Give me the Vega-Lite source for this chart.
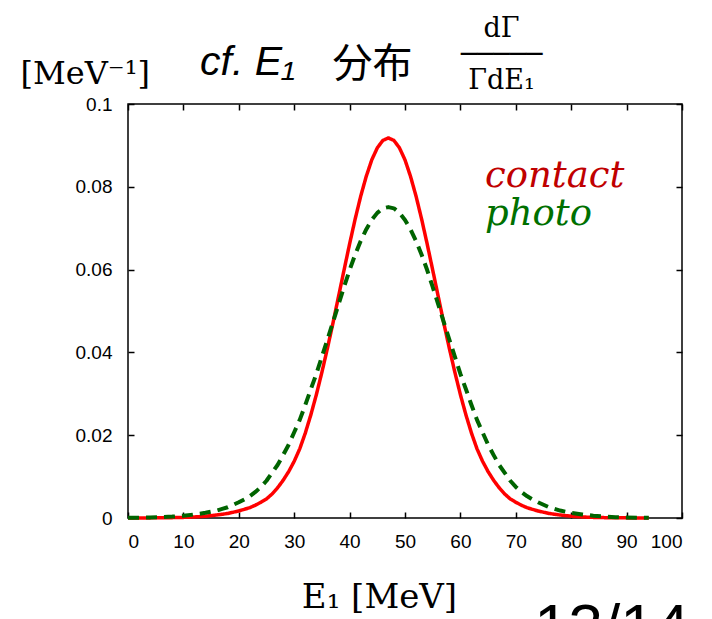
{
  "$schema": "https://vega.github.io/schema/vega-lite/v6.json",
  "width": 554,
  "height": 414,
  "autosize": "none",
  "padding": {"left": 128, "top": 104, "right": 30, "bottom": 101},
  "background": "#ffffff",
  "title": {
    "text": "cf. E₁",
    "anchor": "start",
    "frame": "group",
    "dx": 72,
    "dy": 74,
    "font": "Liberation Sans",
    "fontStyle": "italic",
    "fontWeight": "normal",
    "fontSize": 41,
    "color": "#000000"
  },
  "data": {
    "values": [
      {"E": 0, "v": 0.00001, "s": "contact"},
      {"E": 2, "v": 0.00002, "s": "contact"},
      {"E": 4, "v": 0.00003, "s": "contact"},
      {"E": 6, "v": 0.00005, "s": "contact"},
      {"E": 8, "v": 0.00009, "s": "contact"},
      {"E": 10, "v": 0.00015, "s": "contact"},
      {"E": 12, "v": 0.00025, "s": "contact"},
      {"E": 14, "v": 0.00043, "s": "contact"},
      {"E": 16, "v": 0.00072, "s": "contact"},
      {"E": 17, "v": 0.0009, "s": "contact"},
      {"E": 18, "v": 0.0011, "s": "contact"},
      {"E": 19, "v": 0.0014, "s": "contact"},
      {"E": 20, "v": 0.0017, "s": "contact"},
      {"E": 21, "v": 0.0021, "s": "contact"},
      {"E": 22, "v": 0.0025, "s": "contact"},
      {"E": 23, "v": 0.0031, "s": "contact"},
      {"E": 24, "v": 0.0038, "s": "contact"},
      {"E": 25, "v": 0.0046, "s": "contact"},
      {"E": 26, "v": 0.0058, "s": "contact"},
      {"E": 27, "v": 0.0073, "s": "contact"},
      {"E": 28, "v": 0.0091, "s": "contact"},
      {"E": 29, "v": 0.0112, "s": "contact"},
      {"E": 30, "v": 0.0137, "s": "contact"},
      {"E": 31, "v": 0.0167, "s": "contact"},
      {"E": 32, "v": 0.0205, "s": "contact"},
      {"E": 33, "v": 0.0249, "s": "contact"},
      {"E": 34, "v": 0.0298, "s": "contact"},
      {"E": 35, "v": 0.0352, "s": "contact"},
      {"E": 36, "v": 0.041, "s": "contact"},
      {"E": 37, "v": 0.0471, "s": "contact"},
      {"E": 38, "v": 0.0535, "s": "contact"},
      {"E": 39, "v": 0.0599, "s": "contact"},
      {"E": 40, "v": 0.0662, "s": "contact"},
      {"E": 41, "v": 0.0722, "s": "contact"},
      {"E": 42, "v": 0.0777, "s": "contact"},
      {"E": 43, "v": 0.0825, "s": "contact"},
      {"E": 44, "v": 0.0865, "s": "contact"},
      {"E": 45, "v": 0.0894, "s": "contact"},
      {"E": 46, "v": 0.0912, "s": "contact"},
      {"E": 47, "v": 0.0918, "s": "contact"},
      {"E": 48, "v": 0.0912, "s": "contact"},
      {"E": 49, "v": 0.0894, "s": "contact"},
      {"E": 50, "v": 0.0865, "s": "contact"},
      {"E": 51, "v": 0.0825, "s": "contact"},
      {"E": 52, "v": 0.0777, "s": "contact"},
      {"E": 53, "v": 0.0722, "s": "contact"},
      {"E": 54, "v": 0.0662, "s": "contact"},
      {"E": 55, "v": 0.0599, "s": "contact"},
      {"E": 56, "v": 0.0535, "s": "contact"},
      {"E": 57, "v": 0.0471, "s": "contact"},
      {"E": 58, "v": 0.041, "s": "contact"},
      {"E": 59, "v": 0.0352, "s": "contact"},
      {"E": 60, "v": 0.0298, "s": "contact"},
      {"E": 61, "v": 0.0249, "s": "contact"},
      {"E": 62, "v": 0.0205, "s": "contact"},
      {"E": 63, "v": 0.0167, "s": "contact"},
      {"E": 64, "v": 0.0137, "s": "contact"},
      {"E": 65, "v": 0.0112, "s": "contact"},
      {"E": 66, "v": 0.0091, "s": "contact"},
      {"E": 67, "v": 0.0073, "s": "contact"},
      {"E": 68, "v": 0.0058, "s": "contact"},
      {"E": 69, "v": 0.0046, "s": "contact"},
      {"E": 70, "v": 0.0038, "s": "contact"},
      {"E": 71, "v": 0.0031, "s": "contact"},
      {"E": 72, "v": 0.0025, "s": "contact"},
      {"E": 73, "v": 0.0021, "s": "contact"},
      {"E": 74, "v": 0.0017, "s": "contact"},
      {"E": 75, "v": 0.0014, "s": "contact"},
      {"E": 76, "v": 0.0011, "s": "contact"},
      {"E": 77, "v": 0.0009, "s": "contact"},
      {"E": 78, "v": 0.00072, "s": "contact"},
      {"E": 80, "v": 0.00043, "s": "contact"},
      {"E": 82, "v": 0.00025, "s": "contact"},
      {"E": 84, "v": 0.00015, "s": "contact"},
      {"E": 86, "v": 0.00009, "s": "contact"},
      {"E": 88, "v": 0.00005, "s": "contact"},
      {"E": 90, "v": 0.00003, "s": "contact"},
      {"E": 92, "v": 0.00002, "s": "contact"},
      {"E": 94, "v": 0.00001, "s": "contact"},
      {"E": 0, "v": 0.00005, "s": "photo"},
      {"E": 2, "v": 0.00008, "s": "photo"},
      {"E": 4, "v": 0.00013, "s": "photo"},
      {"E": 6, "v": 0.0002, "s": "photo"},
      {"E": 8, "v": 0.00034, "s": "photo"},
      {"E": 10, "v": 0.00055, "s": "photo"},
      {"E": 12, "v": 0.00086, "s": "photo"},
      {"E": 14, "v": 0.00125, "s": "photo"},
      {"E": 16, "v": 0.0018, "s": "photo"},
      {"E": 17, "v": 0.0022, "s": "photo"},
      {"E": 18, "v": 0.0026, "s": "photo"},
      {"E": 19, "v": 0.0032, "s": "photo"},
      {"E": 20, "v": 0.0038, "s": "photo"},
      {"E": 21, "v": 0.0045, "s": "photo"},
      {"E": 22, "v": 0.0053, "s": "photo"},
      {"E": 23, "v": 0.0063, "s": "photo"},
      {"E": 24, "v": 0.0075, "s": "photo"},
      {"E": 25, "v": 0.009, "s": "photo"},
      {"E": 26, "v": 0.0109, "s": "photo"},
      {"E": 27, "v": 0.0128, "s": "photo"},
      {"E": 28, "v": 0.0152, "s": "photo"},
      {"E": 29, "v": 0.0177, "s": "photo"},
      {"E": 30, "v": 0.0207, "s": "photo"},
      {"E": 31, "v": 0.0237, "s": "photo"},
      {"E": 32, "v": 0.0273, "s": "photo"},
      {"E": 33, "v": 0.0311, "s": "photo"},
      {"E": 34, "v": 0.0348, "s": "photo"},
      {"E": 35, "v": 0.039, "s": "photo"},
      {"E": 36, "v": 0.0431, "s": "photo"},
      {"E": 37, "v": 0.0473, "s": "photo"},
      {"E": 38, "v": 0.0516, "s": "photo"},
      {"E": 39, "v": 0.0558, "s": "photo"},
      {"E": 40, "v": 0.0599, "s": "photo"},
      {"E": 41, "v": 0.0636, "s": "photo"},
      {"E": 42, "v": 0.0669, "s": "photo"},
      {"E": 43, "v": 0.0697, "s": "photo"},
      {"E": 44, "v": 0.072, "s": "photo"},
      {"E": 45, "v": 0.0737, "s": "photo"},
      {"E": 46, "v": 0.0748, "s": "photo"},
      {"E": 47, "v": 0.0751, "s": "photo"},
      {"E": 48, "v": 0.0748, "s": "photo"},
      {"E": 49, "v": 0.0737, "s": "photo"},
      {"E": 50, "v": 0.072, "s": "photo"},
      {"E": 51, "v": 0.0697, "s": "photo"},
      {"E": 52, "v": 0.0669, "s": "photo"},
      {"E": 53, "v": 0.0636, "s": "photo"},
      {"E": 54, "v": 0.0599, "s": "photo"},
      {"E": 55, "v": 0.0558, "s": "photo"},
      {"E": 56, "v": 0.0516, "s": "photo"},
      {"E": 57, "v": 0.0473, "s": "photo"},
      {"E": 58, "v": 0.0431, "s": "photo"},
      {"E": 59, "v": 0.039, "s": "photo"},
      {"E": 60, "v": 0.0348, "s": "photo"},
      {"E": 61, "v": 0.0311, "s": "photo"},
      {"E": 62, "v": 0.0273, "s": "photo"},
      {"E": 63, "v": 0.0237, "s": "photo"},
      {"E": 64, "v": 0.0207, "s": "photo"},
      {"E": 65, "v": 0.0177, "s": "photo"},
      {"E": 66, "v": 0.0152, "s": "photo"},
      {"E": 67, "v": 0.0128, "s": "photo"},
      {"E": 68, "v": 0.0109, "s": "photo"},
      {"E": 69, "v": 0.009, "s": "photo"},
      {"E": 70, "v": 0.0075, "s": "photo"},
      {"E": 71, "v": 0.0063, "s": "photo"},
      {"E": 72, "v": 0.0053, "s": "photo"},
      {"E": 73, "v": 0.0045, "s": "photo"},
      {"E": 74, "v": 0.0038, "s": "photo"},
      {"E": 75, "v": 0.0032, "s": "photo"},
      {"E": 76, "v": 0.0026, "s": "photo"},
      {"E": 77, "v": 0.0022, "s": "photo"},
      {"E": 78, "v": 0.0018, "s": "photo"},
      {"E": 80, "v": 0.00125, "s": "photo"},
      {"E": 82, "v": 0.00086, "s": "photo"},
      {"E": 84, "v": 0.00055, "s": "photo"},
      {"E": 86, "v": 0.00034, "s": "photo"},
      {"E": 88, "v": 0.0002, "s": "photo"},
      {"E": 90, "v": 0.00013, "s": "photo"},
      {"E": 92, "v": 0.00008, "s": "photo"},
      {"E": 94, "v": 0.00005, "s": "photo"}
    ]
  },
  "layer": [
    {
      "mark": {"type": "line", "strokeCap": "butt", "strokeJoin": "round"},
      "encoding": {
        "x": {
          "field": "E", "type": "quantitative",
          "scale": {"domain": [0, 100], "nice": false, "zero": false},
          "axis": {
            "orient": "bottom",
            "offset": -6,
            "ticks": true,
            "values": [0, 10, 20, 30, 40, 50, 60, 70, 80, 90, 100],
            "title": "E₁ [MeV]",
            "titleFont": "DejaVu Serif",
            "titleFontSize": 34,
            "titleFontWeight": "normal",
            "titleColor": "#000000",
            "titleAngle": 0,
            "titleAlign": "center",
            "titleBaseline": "alphabetic",
            "titleX": 251,
            "titleY": 95,
            "labelPadding": 14
          }
        },
        "y": {
          "field": "v", "type": "quantitative",
          "scale": {"domain": [0, 0.1], "nice": false, "zero": false},
          "axis": {
            "orient": "left",
            "offset": -6,
            "ticks": true,
            "values": [0, 0.02, 0.04, 0.06, 0.08, 0.1],
            "format": "~g",
            "title": "[MeV⁻¹]",
            "titleFont": "DejaVu Serif",
            "titleFontSize": 32,
            "titleFontWeight": "normal",
            "titleColor": "#000000",
            "titleAngle": 0,
            "titleAlign": "left",
            "titleBaseline": "alphabetic",
            "titleX": -114,
            "titleY": -21,
            "labelPadding": 16
          }
        },
        "color": {
          "field": "s", "type": "nominal",
          "scale": {"domain": ["contact", "photo"], "range": ["#ff0000", "#006400"]},
          "legend": {
            "orient": "none",
            "legendX": 320,
            "legendY": 53,
            "title": "\u200b\u00a0\u00a0\u00a0\u00a0\u00a013/14",
            "titleOrient": "bottom",
            "titleFont": "Liberation Sans",
            "titleFontSize": 62,
            "titleFontWeight": "normal",
            "titleColor": "#000000",
            "titleBaseline": "top",
            "titlePadding": 366,
            "titleLimit": 700,
            "symbolSize": 0,
            "symbolStrokeWidth": 0,
            "symbolOpacity": 0,
            "labelFont": "DejaVu Serif",
            "labelFontStyle": "italic",
            "labelFontSize": 37,
            "labelOffset": 0,
            "rowPadding": 0,
            "padding": 0,
            "labelLimit": 400,
            "encode": {
              "labels": {
                "update": {
                  "fill": {"signal": "datum.value === 'contact' ? '#c00000' : '#007000'"}
                }
              }
            }
          }
        },
        "strokeDash": {
          "field": "s", "type": "nominal",
          "scale": {"domain": ["contact", "photo"], "range": [[1, 0], [11, 7]]},
          "legend": null
        },
        "strokeWidth": {
          "field": "s", "type": "nominal",
          "scale": {"domain": ["contact", "photo"], "range": [3.5, 4]},
          "legend": null
        }
      }
    },
    {
      "mark": {"type": "line", "strokeOpacity": 0},
      "encoding": {
        "x": {
          "field": "E", "type": "quantitative",
          "axis": {
            "orient": "top",
            "offset": -6,
            "ticks": true,
            "values": [0, 10, 20, 30, 40, 50, 60, 70, 80, 90, 100],
            "labels": false,
            "title": ["dΓ", "─────", "ΓdE₁"],
            "titleFont": "DejaVu Serif",
            "titleFontSize": 27,
            "titleFontWeight": "normal",
            "titleColor": "#000000",
            "titleAngle": 0,
            "titleAlign": "center",
            "titleBaseline": "top",
            "titleLineHeight": 26,
            "titleX": 373,
            "titleY": -95
          }
        },
        "y": {
          "field": "v", "type": "quantitative",
          "axis": {
            "orient": "right",
            "offset": -6,
            "ticks": true,
            "values": [0, 0.02, 0.04, 0.06, 0.08, 0.1],
            "labels": false,
            "title": "分布",
            "titleFont": "Noto Sans CJK JP",
            "titleFontSize": 40,
            "titleFontWeight": "normal",
            "titleColor": "#000000",
            "titleAngle": 0,
            "titleAlign": "center",
            "titleBaseline": "alphabetic",
            "titleX": -304,
            "titleY": -28
          }
        },
        "detail": {"field": "s", "type": "nominal"}
      }
    }
  ],
  "resolve": {"axis": {"x": "independent", "y": "independent"}},
  "config": {
    "view": {"stroke": "#000000", "strokeWidth": 1.5},
    "axis": {
      "grid": false,
      "domain": false,
      "ticks": true,
      "tickColor": "#000000",
      "tickWidth": 1.5,
      "tickSize": 6,
      "labelFont": "Liberation Sans",
      "labelFontSize": 19,
      "labelColor": "#000000"
    }
  }
}
